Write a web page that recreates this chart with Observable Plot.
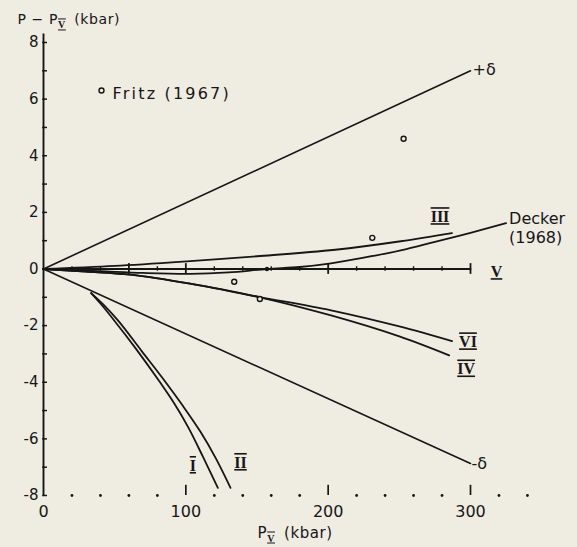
<!DOCTYPE html>
<html><head><meta charset="utf-8">
<script src="https://cdn.jsdelivr.net/npm/d3@7"></script>
<script src="https://cdn.jsdelivr.net/npm/@observablehq/plot@0.6"></script>
<style>
html,body{margin:0;padding:0;background:#efece2;}
#chart svg{display:block;}
</style></head><body><div id="chart"></div>
<script>
// ---- data ----
const plusDeltaX = [0, 300], plusDeltaY = [0, 7.0];
const minusDeltaX = [0, 300], minusDeltaY = [0, -6.87];
const curveIIIX = [0, 50, 103, 150, 205, 251, 287];
const curveIIIY = [0, 0.11, 0.28, 0.45, 0.68, 0.98, 1.27];
const deckerX = [0, 40, 70, 103, 130, 157, 180, 202, 225, 251, 275, 300, 325];
const deckerY = [0, -0.08, -0.14, -0.17, -0.12, 0, 0.07, 0.2, 0.4, 0.66, 0.96, 1.28, 1.62];
const curveVX = [0, 300], curveVY = [0, 0];
const curveVIX = [0, 30, 61, 103, 152, 202, 250, 287];
const curveVIY = [0, -0.09, -0.2, -0.52, -0.99, -1.46, -2.03, -2.55];
const curveIVX = [0, 30, 61, 103, 152, 202, 250, 285];
const curveIVY = [0, -0.09, -0.2, -0.52, -1.0, -1.64, -2.38, -3.05];
const curveIX = [33.5, 40, 49.4, 65, 81, 92, 102, 112, 122.5];
const curveIY = [-0.85, -1.22, -1.8, -2.82, -3.94, -4.76, -5.62, -6.63, -7.73];
const curveIIX = [33.5, 43, 52.9, 69, 85.7, 98, 110.3, 121, 131.4];
const curveIIY = [-0.85, -1.3, -1.85, -2.9, -3.99, -4.84, -5.75, -6.68, -7.73];
const fritzX = [134, 152, 231, 253];
const fritzY = [-0.45, -1.06, 1.1, 4.6];
const crossX = [157], crossY = [0];
const vSmallTicks = [20, 40, 80, 120, 140, 160, 180, 220, 240, 260, 280];
const vBigTicks = [60, 100, 200, 300];
const yTickVals = d3.range(-8, 9, 1);
const yLabelVals = [-8, -6, -4, -2, 0, 2, 4, 6, 8];
const xLabelVals = [0, 100, 200, 300];
const xBigTicks = [100, 200, 300];
const xDotVals = [20, 40, 60, 80, 120, 140, 160, 180, 220, 240, 260, 280, 320, 340];

// ---- helpers ----
const INK = "#161616", BG = "#efece2";
const pts = (xs, ys) => xs.map((x, i) => ({x, y: ys[i]}));
const endOf = (xs, ys) => [{x: xs[xs.length - 1], y: ys[ys.length - 1]}];
const line = (xs, ys, w = 1.8) => Plot.line(pts(xs, ys), {x: "x", y: "y", stroke: INK, strokeWidth: w, curve: "catmull-rom"});
const roman = (xs, ys, t, dx, dy) => Plot.text(endOf(xs, ys), {x: "x", y: "y", text: () => t, dx, dy, fontSize: 16, fontWeight: "bold", fontFamily: "Liberation Serif", fill: INK});

const chart = Plot.plot({
  width: 577, height: 547,
  marginLeft: 43, marginRight: 107, marginTop: 42, marginBottom: 52,
  style: {background: BG, color: INK, fontFamily: "DejaVu Sans", fontSize: "15px", overflow: "visible"},
  x: {domain: [0, 300], axis: null},
  y: {domain: [-8, 8], axis: null},
  marks: [
    // y axis
    Plot.ruleX([0], {y1: -8, y2: 8.3, stroke: INK, strokeWidth: 1.9}),
    Plot.ruleY(yTickVals, {y: d => d, x1: -0.6, x2: 2.8, stroke: INK, strokeWidth: 1.5}),
    Plot.text(yLabelVals, {y: d => d, frameAnchor: "left", textAnchor: "end", dx: -5, text: d => String(d), fontSize: 15, fill: INK}),
    // x axis
    Plot.dot(xDotVals, {x: d => d, y: -8, r: 1.4, fill: INK, stroke: null}),
    Plot.ruleX(xBigTicks, {x: d => d, y1: -8, y2: -7.64, stroke: INK, strokeWidth: 1.7}),
    Plot.text(xLabelVals, {x: d => d, frameAnchor: "bottom", dy: 21, text: d => String(d), fontSize: 16, fill: INK}),
    // axis titles
    Plot.text(["P \u2212 P_V (kbar)"], {frameAnchor: "top-left", dx: -26, dy: -28, textAnchor: "start", fontSize: 14, fill: INK}),
    Plot.text(["P_V (kbar)"], {frameAnchor: "bottom-left", dx: 214, dy: 42, textAnchor: "start", fontSize: 15, fill: INK}),
    // curves
    line(plusDeltaX, plusDeltaY, 1.6),
    line(minusDeltaX, minusDeltaY, 1.6),
    line(curveIIIX, curveIIIY),
    line(deckerX, deckerY),
    line(curveVX, curveVY),
    Plot.ruleX(vSmallTicks, {x: d => d, y1: -0.08, y2: 0.08, stroke: INK, strokeWidth: 1.4}),
    Plot.ruleX(vBigTicks, {x: d => d, y1: -0.19, y2: 0.19, stroke: INK, strokeWidth: 1.8}),
    Plot.dot(pts(crossX, crossY), {x: "x", y: "y", r: 2.2, fill: INK, stroke: null}),
    line(curveVIX, curveVIY),
    line(curveIVX, curveIVY),
    line(curveIX, curveIY),
    line(curveIIX, curveIIY),
    // Fritz data
    Plot.dot(pts(fritzX, fritzY), {x: "x", y: "y", r: 2.5, stroke: INK, strokeWidth: 1.4, fill: BG}),
    Plot.dot([0], {frameAnchor: "top-left", dx: 58, dy: 48, r: 2.5, stroke: INK, strokeWidth: 1.4, fill: BG}),
    Plot.text(["Fritz (1967)"], {frameAnchor: "top-left", dx: 69, dy: 45, textAnchor: "start", fontSize: 16, fill: INK}),
    // labels
    Plot.text(endOf(plusDeltaX, plusDeltaY), {x: "x", y: "y", text: () => "+δ", textAnchor: "start", dx: 2, dy: -1, fontSize: 16, fill: INK}),
    Plot.text(endOf(minusDeltaX, minusDeltaY), {x: "x", y: "y", text: () => "-δ", textAnchor: "start", dx: 1, dy: 0, fontSize: 16, fill: INK}),
    Plot.text(endOf(deckerX, deckerY), {x: "x", y: "y", text: () => "Decker\n(1968)", textAnchor: "start", lineAnchor: "middle", lineHeight: 1.2, dx: 3, dy: 4, fontSize: 16, fill: INK}),
    roman(curveIIIX, curveIIIY, "III", -12, -16),
    roman(curveVX, curveVY, "V", 26, 3),
    roman(curveVIX, curveVIY, "VI", 16, 1),
    roman(curveIVX, curveIVY, "IV", 17, 14),
    roman(curveIX, curveIY, "I", -25, -22),
    roman(curveIIX, curveIIY, "II", 10, -25)
  ]
});

// subscripts, letter spacing and Roman-numeral bars
const NS = "http://www.w3.org/2000/svg";
chart.querySelectorAll("text").forEach(t => {
  const s = t.textContent;
  if (s.includes("_V")) {
    const [a, b] = s.split("_V");
    t.textContent = "";
    t.setAttribute("letter-spacing", "0.6");
    const t1 = document.createElementNS(NS, "tspan"); t1.textContent = a;
    const t2 = document.createElementNS(NS, "tspan"); t2.textContent = "V";
    t2.setAttribute("dy", "4"); t2.setAttribute("font-size", "10"); t2.setAttribute("font-family", "Liberation Serif"); t2.setAttribute("font-weight", "bold");
    t2.setAttribute("text-decoration", "underline overline");
    const t3 = document.createElementNS(NS, "tspan"); t3.textContent = "\u2009" + b; t3.setAttribute("dy", "-4");
    t.append(t1, t2, t3);
  } else if (s === "Fritz (1967)") {
    t.setAttribute("letter-spacing", "2.2");
  } else if (/^(I|II|III|IV|VI)$/.test(s)) {
    t.setAttribute("text-decoration", "underline overline");
  } else if (s === "V") {
    t.setAttribute("text-decoration", "underline");
  }
});
document.getElementById("chart").append(chart);
</script>
</body></html>
